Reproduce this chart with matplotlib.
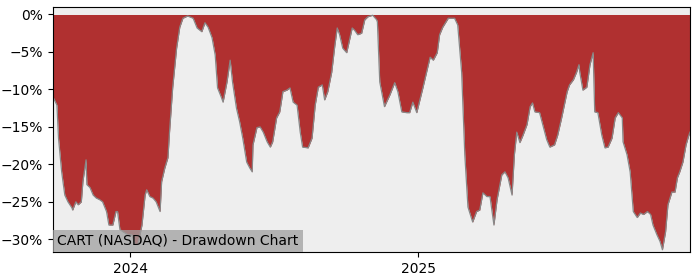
import matplotlib
matplotlib.use("Agg")
import matplotlib.pyplot as plt
import matplotlib.dates as mdates
from matplotlib.ticker import FuncFormatter
import pandas as pd
import numpy as np

# drawdown in percent
dates = [
    "2023-09-25", "2023-09-30", "2023-10-02", "2023-10-06", "2023-10-10", "2023-10-14",
    "2023-10-19", "2023-10-20", "2023-10-24", "2023-10-27", "2023-10-31", "2023-11-02",
    "2023-11-06", "2023-11-07", "2023-11-11", "2023-11-15", "2023-11-19", "2023-11-23",
    "2023-11-27", "2023-12-02", "2023-12-05", "2023-12-10", "2023-12-14", "2023-12-16",
    "2023-12-19", "2023-12-23", "2023-12-29", "2024-01-03", "2024-01-07", "2024-01-11",
    "2024-01-16", "2024-01-20", "2024-01-22", "2024-01-26", "2024-01-30", "2024-02-03",
    "2024-02-08", "2024-02-10", "2024-02-14", "2024-02-18", "2024-02-20", "2024-02-24",
    "2024-02-29", "2024-03-04", "2024-03-08", "2024-03-14", "2024-03-21", "2024-03-26",
    "2024-04-01", "2024-04-05", "2024-04-09", "2024-04-14", "2024-04-18", "2024-04-21",
    "2024-04-26", "2024-04-28", "2024-05-03", "2024-05-07", "2024-05-10", "2024-05-15",
    "2024-05-19", "2024-05-23", "2024-05-28", "2024-06-01", "2024-06-04", "2024-06-05",
    "2024-06-10", "2024-06-14", "2024-06-18", "2024-06-23", "2024-06-27", "2024-06-30",
    "2024-07-05", "2024-07-09", "2024-07-13", "2024-07-18", "2024-07-22", "2024-07-26",
    "2024-07-31", "2024-08-04", "2024-08-07", "2024-08-14", "2024-08-19", "2024-08-23",
    "2024-08-27", "2024-09-01", "2024-09-04", "2024-09-08", "2024-09-13", "2024-09-17",
    "2024-09-20", "2024-09-23", "2024-09-27", "2024-10-02", "2024-10-05", "2024-10-09",
    "2024-10-12", "2024-10-16", "2024-10-21", "2024-10-25", "2024-10-29", "2024-11-04",
    "2024-11-09", "2024-11-10", "2024-11-13", "2024-11-19", "2024-11-26", "2024-12-02",
    "2024-12-06", "2024-12-11", "2024-12-17", "2024-12-21", "2024-12-25", "2024-12-30",
    "2025-01-03", "2025-01-07", "2025-01-13", "2025-01-16", "2025-01-20", "2025-01-25",
    "2025-01-28", "2025-02-01", "2025-02-08", "2025-02-16", "2025-02-20", "2025-02-25",
    "2025-03-01", "2025-03-05", "2025-03-11", "2025-03-16", "2025-03-20", "2025-03-24",
    "2025-03-29", "2025-04-02", "2025-04-07", "2025-04-11", "2025-04-17", "2025-04-21",
    "2025-04-25", "2025-04-30", "2025-05-03", "2025-05-06", "2025-05-10", "2025-05-14",
    "2025-05-19", "2025-05-23", "2025-05-26", "2025-05-29", "2025-06-04", "2025-06-08",
    "2025-06-13", "2025-06-17", "2025-06-23", "2025-06-27", "2025-07-02", "2025-07-09",
    "2025-07-12", "2025-07-17", "2025-07-21", "2025-07-24", "2025-07-25", "2025-07-29",
    "2025-08-03", "2025-08-07", "2025-08-11", "2025-08-13", "2025-08-17", "2025-08-22",
    "2025-08-26", "2025-08-30", "2025-09-04", "2025-09-08", "2025-09-12", "2025-09-17",
    "2025-09-18", "2025-09-23", "2025-09-27", "2025-10-01", "2025-10-06", "2025-10-10",
    "2025-10-14", "2025-10-19", "2025-10-23", "2025-10-26", "2025-10-31", "2025-11-04",
    "2025-11-07", "2025-11-11", "2025-11-14", "2025-11-19", "2025-11-23", "2025-11-26",
    "2025-11-29", "2025-12-03", "2025-12-07", "2025-12-10", "2025-12-12",
]
drawdown = [
    -11.0, -12.1, -16.5, -21.0, -24.1, -25.0,
    -25.8, -26.1, -25.0, -25.4, -25.0, -22.3,
    -19.4, -22.7, -23.1, -24.1, -24.5, -24.7,
    -25.0, -26.3, -28.1, -28.1, -26.3, -26.3,
    -28.7, -29.0, -29.4, -29.4, -30.7, -30.7,
    -28.1, -24.1, -23.4, -24.3, -24.5, -25.0,
    -26.3, -22.3, -20.5, -19.1, -15.7, -9.8,
    -4.5, -1.7, -0.5, -0.2, -0.5, -1.8,
    -2.3, -1.1, -1.7, -3.1, -5.4, -9.8,
    -11.1, -11.7, -9.0, -6.1, -9.0, -12.5,
    -14.3, -16.5, -19.7, -20.5, -21.0, -17.4,
    -15.1, -15.0, -15.7, -17.0, -17.7, -17.0,
    -13.8, -13.0, -10.3, -10.1, -9.8, -11.7,
    -12.1, -15.7, -17.7, -17.8, -16.5, -12.1,
    -9.7, -9.4, -11.4, -10.3, -7.7, -4.1,
    -1.8, -2.7, -4.5, -5.1, -3.7, -1.8,
    -2.1, -2.7, -2.5, -0.7, -0.3, -0.1,
    -0.7, -1.0, -9.0, -12.3, -10.7, -9.1,
    -10.3, -13.0, -13.1, -13.1, -11.7, -13.1,
    -11.4, -9.7, -7.0, -5.7, -6.1, -5.1,
    -2.7, -1.7, -0.5, -0.5, -1.4, -7.7,
    -18.7, -25.7, -27.7, -26.3, -26.1, -23.8,
    -24.3, -24.3, -28.1, -24.7, -21.4, -21.0,
    -21.8, -24.1, -18.7, -15.7, -17.1, -16.1,
    -14.7, -12.3, -11.8, -13.0, -13.1, -14.7,
    -16.7, -17.7, -17.4, -16.1, -13.8, -10.3,
    -9.4, -8.7, -7.7, -6.7, -7.7, -10.1,
    -9.7, -6.7, -5.1, -13.0, -13.1, -16.1,
    -17.8, -17.7, -16.5, -13.8, -13.1, -13.8,
    -17.0, -18.7, -21.0, -26.3, -27.1, -26.5,
    -26.7, -26.3, -26.7, -28.1, -29.4, -30.3,
    -31.4, -29.0, -25.4, -23.7, -23.7, -21.8,
    -21.0, -19.7, -17.4, -16.3, -15.7,
]
title = "CART (NASDAQ) - Drawdown Chart"

x = pd.to_datetime(dates)
dd = np.array(drawdown)

fig = plt.figure(figsize=(7, 2.8), dpi=100)
ax = fig.add_axes([0.0757, 0.1, 0.91, 0.875])
ax.set_facecolor("#eeeeee")

ax.fill_between(x, dd, 0, color="#b03030", linewidth=0)
ax.plot(x, dd, color="#888888", linewidth=0.9)

ax.set_xlim(x[0], x[-1])
ax.set_ylim(dd.min() - 0.3, 1.0)
ax.set_yticks([0, -5, -10, -15, -20, -25, -30])
ax.yaxis.set_major_formatter(FuncFormatter(lambda v, p: f"{v:.0f}%".replace("-", "\u2212")))
ax.xaxis.set_major_locator(mdates.YearLocator())
ax.xaxis.set_major_formatter(mdates.DateFormatter("%Y"))

ax.annotate(title, xy=(0, 0), xycoords="axes fraction", xytext=(3, 3),
            textcoords="offset points", fontsize=10, va="bottom", ha="left",
            bbox=dict(facecolor="#a0a0a0", alpha=0.75, edgecolor="none", pad=3))

fig.savefig("out.png")
